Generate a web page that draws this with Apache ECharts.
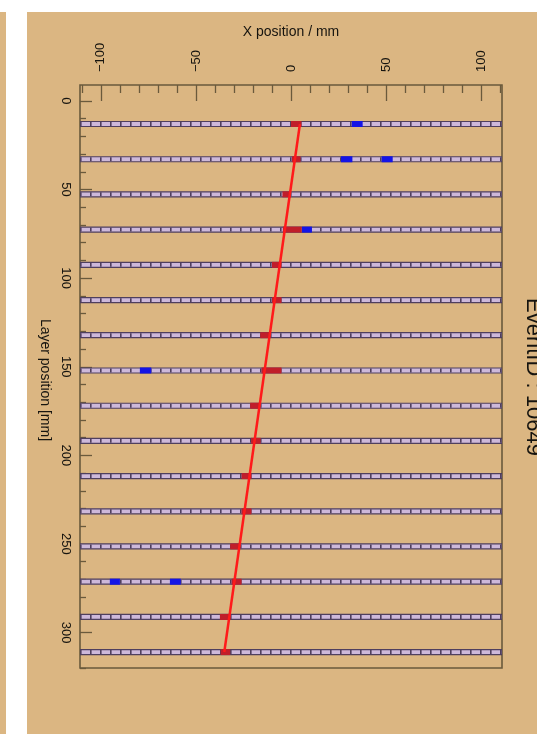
<!DOCTYPE html>
<html>
<head>
<meta charset="utf-8">
<script src="https://cdn.jsdelivr.net/npm/echarts@6/dist/echarts.min.js"></script>
<style>
html,body{margin:0;padding:0;background:#ffffff;}
#chart{width:537px;height:734px;}
</style>
</head>
<body>
<div id="chart"></div>
<script>
// ---- data ----
const titleText = 'EventID : 10649';
const xAxisTitle = 'X position / mm';
const yAxisTitle = 'Layer position [mm]';

const xMajorTicks = [-100, -50, 0, 50, 100];
const xMinorTicks = [-110, -90, -80, -70, -60, -40, -30, -20, -10, 10, 20, 30, 40, 60, 70, 80, 90, 110];
const yMajorTicks = [0, 50, 100, 150, 200, 250, 300];
const yMinorTicks = [10, 20, 30, 40, 60, 70, 80, 90, 110, 120, 130, 140, 160, 170, 180, 190, 210, 220, 230, 240, 260, 270, 280, 290, 310, 320];

// detector layer positions (mm)
const layerPos = [13, 32.9, 52.7, 72.6, 92.5, 112.4, 132.2, 152.1, 172, 191.8, 211.7, 231.6, 251.4, 271.3, 291.2, 311];

// hits assigned to the track: [layer, xMin, xMax]
const trackHits = [
  [13, 0, 5.5], [32.9, 0.5, 5], [52.7, -4.5, 0], [72.6, -4.3, 5.6],
  [92.5, -10, -5], [112.4, -10, -5], [132.2, -16.2, -11], [152.1, -15.5, -5],
  [172, -21.5, -16.3], [191.8, -21, -16], [211.7, -26, -20.8], [231.6, -26, -20.8],
  [251.4, -32, -26.8], [271.3, -31.2, -26], [291.2, -37.4, -31.8], [311, -37, -32]
];
// other (noise) hits: [layer, xMin, xMax]
const noiseHits = [
  [13, 32, 37.7], [32.9, 26.3, 32.3], [32.9, 47.7, 53.5], [72.6, 5.8, 11],
  [152.1, -79.5, -73.5], [271.3, -95.3, -90], [271.3, -63.7, -58]
];
// fitted track endpoints
const trackLayer = [13, 311];
const trackX = [4.7, -35.1];

// ---- chart ----
const X_MIN = -111, X_MAX = 111, Y_MIN = -9, Y_MAX = 320;
const FONT = "'Liberation Sans', Arial, Helvetica, sans-serif";
const TAN = '#dbb682';
const FRAME = '#6a5a3c';
const TXT = '#16140f';

const chart = echarts.init(document.getElementById('chart'), null, {renderer: 'canvas'});

function minus(v) { return String(v).replace('-', '\u2212'); }

function renderLayer(params, api) {
  const y = api.value(1);
  const p1 = api.coord([X_MIN, y]);
  const p2 = api.coord([X_MAX, y]);
  return {
    type: 'group',
    children: [
      {type: 'rect', shape: {x: p1[0], y: p1[1] - 2.5, width: p2[0] - p1[0], height: 5},
       style: {fill: '#cdb8da', stroke: '#4f3f5e', lineWidth: 1.2}},
      {type: 'line', shape: {x1: p1[0], y1: p1[1], x2: p2[0], y2: p2[1]},
       style: {stroke: '#4f3f5e', lineWidth: 4, lineDash: [1.6, 8.4]}}
    ]
  };
}
function hitRenderer(color) {
  return function (params, api) {
    const y = api.value(0);
    const p1 = api.coord([api.value(1), y]);
    const p2 = api.coord([api.value(2), y]);
    return {type: 'rect', shape: {x: p1[0], y: p1[1] - 3, width: p2[0] - p1[0], height: 6},
            style: {fill: color}};
  };
}

const option = {
  animation: false,
  backgroundColor: '#ffffff',
  graphic: [
    {type: 'rect', left: 0, top: 12, shape: {width: 6, height: 722}, style: {fill: TAN}, z: -10},
    {type: 'rect', left: 27, top: 12, shape: {width: 510, height: 722}, style: {fill: TAN}, z: -10},
    {type: 'text', x: 533, y: 377, rotation: -Math.PI / 2,
     style: {text: titleText, font: '22px ' + FONT, fill: TXT, align: 'center', verticalAlign: 'middle'}},
    {type: 'text', x: 291, y: 32,
     style: {text: xAxisTitle, font: '14px ' + FONT, fill: TXT, align: 'center', verticalAlign: 'middle'}},
    {type: 'text', x: 45, y: 380, rotation: -Math.PI / 2,
     style: {text: yAxisTitle, font: '14px ' + FONT, fill: TXT, align: 'center', verticalAlign: 'middle'}}
  ],
  grid: {left: 80, top: 85, right: 35, bottom: 66, show: true, borderColor: FRAME, borderWidth: 1.6,
         backgroundColor: 'transparent'},
  xAxis: [
    {type: 'value', position: 'top', min: X_MIN, max: X_MAX,
     axisLine: {show: false, onZero: false}, splitLine: {show: false},
     axisTick: {show: true, inside: true, length: 16, customValues: xMajorTicks, lineStyle: {color: FRAME, width: 1.3}},
     axisLabel: {show: true, customValues: xMajorTicks, rotate: -90, margin: 13, formatter: minus,
                 fontSize: 13, fontFamily: FONT, color: TXT}},
    {type: 'value', position: 'top', min: X_MIN, max: X_MAX,
     axisLine: {show: false, onZero: false}, splitLine: {show: false}, axisLabel: {show: false},
     axisTick: {show: true, inside: true, length: 8, customValues: xMinorTicks, lineStyle: {color: FRAME, width: 1.3}}}
  ],
  yAxis: [
    {type: 'value', position: 'left', inverse: true, min: Y_MIN, max: Y_MAX,
     axisLine: {show: false, onZero: false}, splitLine: {show: false},
     axisTick: {show: true, inside: true, length: 12, customValues: yMajorTicks, lineStyle: {color: FRAME, width: 1.3}},
     axisLabel: {show: true, customValues: yMajorTicks, rotate: -90, margin: 8,
                 fontSize: 13, fontFamily: FONT, color: TXT}},
    {type: 'value', position: 'left', inverse: true, min: Y_MIN, max: Y_MAX,
     axisLine: {show: false, onZero: false}, splitLine: {show: false}, axisLabel: {show: false},
     axisTick: {show: true, inside: true, length: 6, customValues: yMinorTicks, lineStyle: {color: FRAME, width: 1.3}}}
  ],
  series: [
    {type: 'custom', name: 'layers', xAxisIndex: 0, yAxisIndex: 0, renderItem: renderLayer,
     data: layerPos.map(v => [0, v]), clip: true, z: 1, silent: true},
    {type: 'custom', name: 'noise hits', xAxisIndex: 0, yAxisIndex: 0, renderItem: hitRenderer('#1414e6'),
     encode: {x: [1, 2], y: 0}, data: noiseHits, clip: true, z: 2, silent: true},
    {type: 'custom', name: 'track hits', xAxisIndex: 0, yAxisIndex: 0, renderItem: hitRenderer('#c01e2a'),
     encode: {x: [1, 2], y: 0}, data: trackHits, clip: true, z: 3, silent: true},
    {type: 'line', name: 'track', xAxisIndex: 0, yAxisIndex: 0,
     data: trackX.map((x, i) => [x, trackLayer[i]]), showSymbol: false, symbol: 'none',
     lineStyle: {color: '#ff1a1a', width: 2.5}, z: 4, silent: true}
  ]
};
chart.setOption(option);
</script>
</body>
</html>
